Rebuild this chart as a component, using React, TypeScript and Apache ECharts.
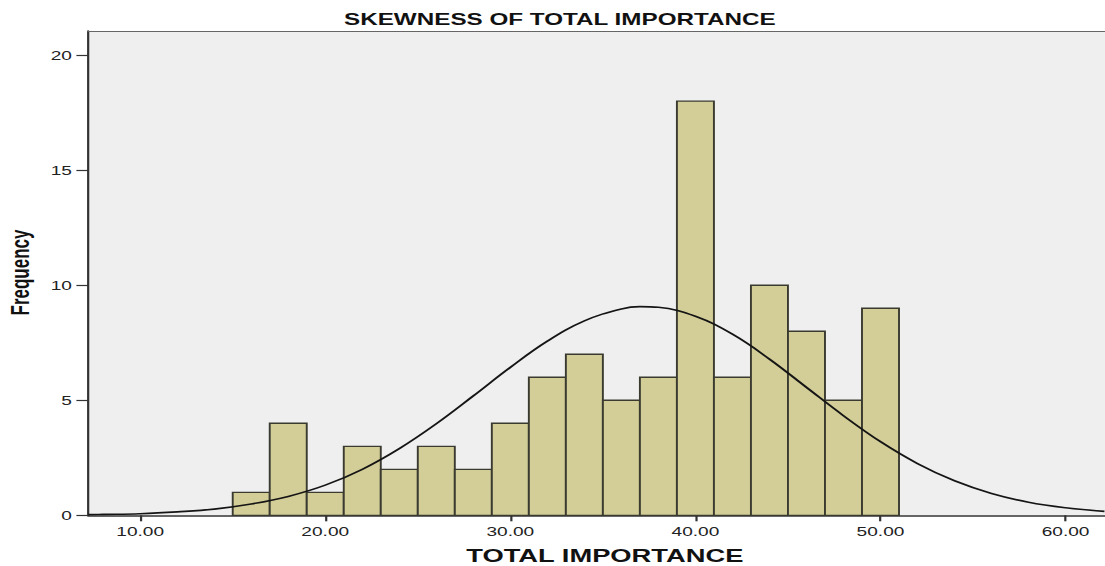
import React, { useEffect, useRef } from "react";
import * as echarts from "echarts";

// Histogram bins (TOTAL IMPORTANCE), bin width 2
const binLower = [15, 17, 19, 21, 23, 25, 27, 29, 31, 33, 35, 37, 39, 41, 43, 45, 47, 49];
const binUpper = [17, 19, 21, 23, 25, 27, 29, 31, 33, 35, 37, 39, 41, 43, 45, 47, 49, 51];
const frequency = [1, 4, 1, 3, 2, 3, 2, 4, 6, 7, 5, 6, 18, 6, 10, 8, 5, 9];

// Normal curve points
const curveX = [7.2, 8, 10, 12, 14, 16, 18, 20, 22, 24, 26, 28, 30, 32, 34, 36, 37, 38, 40, 42, 44, 46, 48, 50, 52, 54, 56, 58, 60, 62.1];
const curveY = [0.03, 0.04, 0.07, 0.15, 0.27, 0.49, 0.82, 1.31, 2.0, 2.9, 3.98, 5.19, 6.43, 7.57, 8.45, 8.97, 9.07, 9.04, 8.65, 7.87, 6.79, 5.56, 4.33, 3.2, 2.25, 1.5, 0.95, 0.57, 0.33, 0.17];

const xTicks = [10, 20, 30, 40, 50, 60];
const yTicks = [0, 5, 10, 15, 20];

const TITLE = "SKEWNESS OF TOTAL IMPORTANCE";
const X_NAME = "TOTAL IMPORTANCE";
const Y_NAME = "Frequency";

const W = 752;
const H = 566;
const STRETCH = 1105 / W;
const FONT = "Arial, 'Liberation Sans', Helvetica, sans-serif";

export default function App() {
  const ref = useRef<HTMLDivElement>(null);

  useEffect(() => {
    if (!ref.current) return;
    const chart = echarts.init(ref.current, undefined, { renderer: "svg" });
    const barData = binLower.map((lo, i) => [lo, binUpper[i], frequency[i]]);
    const lineData = curveX.map((x, i) => [x, curveY[i]]);

    chart.setOption({
      animation: false,
      backgroundColor: "#ffffff",
      grid: {
        left: 60,
        right: 0,
        top: 31,
        bottom: 50.7,
        show: true,
        backgroundColor: "#efefef",
        borderWidth: 0,
      },
      graphic: [
        {
          type: "text",
          x: 381,
          y: 19,
          style: {
            text: TITLE,
            fontFamily: FONT,
            fontWeight: "bold",
            fontSize: 16.5,
            fill: "#111",
            textAlign: "center",
            textVerticalAlign: "middle",
          },
        },
        {
          type: "text",
          x: 411.6,
          y: 556,
          style: {
            text: X_NAME,
            fontFamily: FONT,
            fontWeight: "bold",
            fontSize: 18.6,
            fill: "#111",
            textAlign: "center",
            textVerticalAlign: "middle",
          },
        },
        {
          type: "text",
          x: 14,
          y: 272.5,
          rotation: Math.PI / 2,
          style: {
            text: Y_NAME,
            fontFamily: FONT,
            fontWeight: "bold",
            fontSize: 17,
            fill: "#111",
            textAlign: "center",
            textVerticalAlign: "middle",
          },
        },
      ],
      xAxis: [
        {
          type: "value",
          min: 7.19,
          max: 62.13,
          position: "bottom",
          axisLine: { show: true, onZero: false, lineStyle: { color: "#333", width: 1.5 } },
          axisTick: {
            show: true,
            inside: false,
            length: 6,
            customValues: xTicks,
            lineStyle: { color: "#333", width: 1.5 },
          },
          axisLabel: {
            show: true,
            customValues: xTicks,
            margin: 9,
            fontSize: 13,
            fontFamily: FONT,
            color: "#222",
            formatter: (v: number) => v.toFixed(2),
          },
          splitLine: { show: false },
        },
        {
          type: "value",
          min: 7.19,
          max: 62.13,
          position: "top",
          axisLine: { show: true, onZero: false, lineStyle: { color: "#666", width: 1.2 } },
          axisTick: { show: false },
          axisLabel: { show: false },
          splitLine: { show: false },
        },
      ],
      yAxis: {
        type: "value",
        min: 0,
        max: 21.05,
        axisLine: { show: true, onZero: false, lineStyle: { color: "#333", width: 1.5 } },
        axisTick: {
          show: true,
          inside: false,
          length: 8,
          customValues: yTicks,
          lineStyle: { color: "#333", width: 1.2 },
        },
        axisLabel: {
          show: true,
          customValues: yTicks,
          margin: 11,
          fontSize: 13,
          fontFamily: FONT,
          color: "#222",
        },
        splitLine: { show: false },
      },
      series: [
        {
          type: "custom",
          xAxisIndex: 0,
          yAxisIndex: 0,
          encode: { x: [0, 1], y: 2 },
          data: barData,
          renderItem: (_params: any, api: any) => {
            const x0 = api.value(0);
            const x1 = api.value(1);
            const y = api.value(2);
            const pTop = api.coord([x0, y]);
            const pBot = api.coord([x1, 0]);
            return {
              type: "rect",
              shape: {
                x: pTop[0],
                y: pTop[1],
                width: pBot[0] - pTop[0],
                height: pBot[1] - pTop[1],
              },
              style: { fill: "#d3ce97", stroke: "#3a3a30", lineWidth: 1.3 },
            };
          },
          z: 2,
        },
        {
          type: "line",
          xAxisIndex: 0,
          yAxisIndex: 0,
          data: lineData,
          smooth: 0.4,
          showSymbol: false,
          symbol: "none",
          lineStyle: { color: "#151515", width: 1.6 },
          z: 3,
        },
      ],
    });
    return () => chart.dispose();
  }, []);

  return (
    <div
      ref={ref}
      style={{
        position: "absolute",
        left: 0,
        top: 0,
        width: W,
        height: H,
        transform: `scaleX(${STRETCH})`,
        transformOrigin: "0 0",
      }}
    />
  );
}
